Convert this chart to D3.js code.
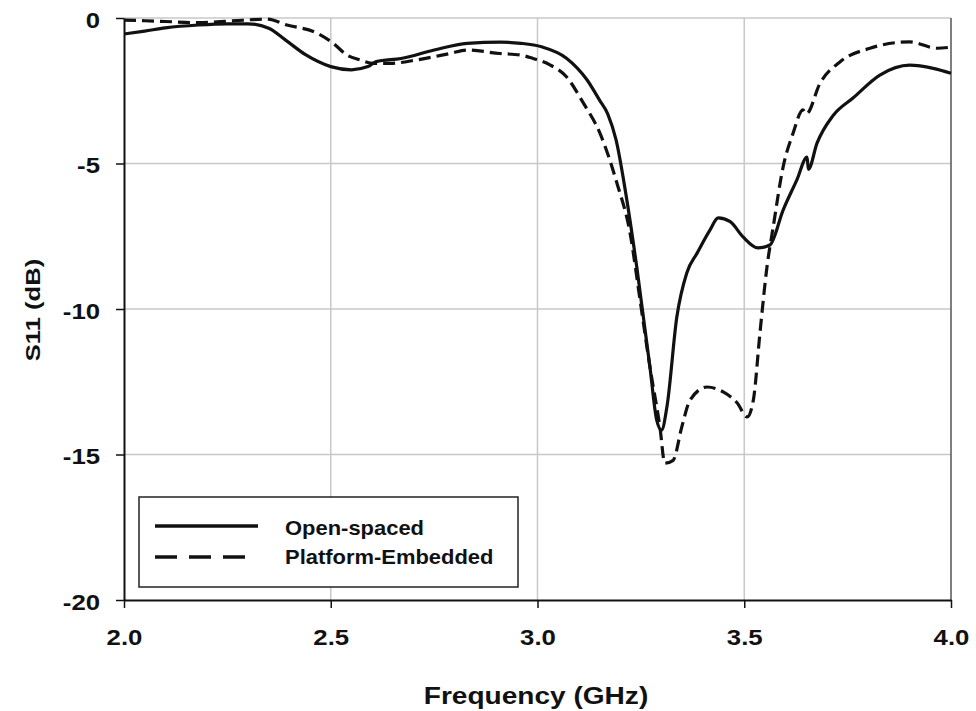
<!DOCTYPE html>
<html><head><meta charset="utf-8">
<script src="https://cdn.jsdelivr.net/npm/d3@7/dist/d3.min.js"></script>
<style>
html,body{margin:0;padding:0;background:#fff;}
text{font-family:"Liberation Sans",Arial,sans-serif;font-weight:bold;fill:#111;}
</style></head>
<body>
<svg id="chart" width="976" height="711"></svg>
<script>
// ---- data ----
const openFreq = [2.00,2.05,2.10,2.18,2.25,2.30,2.35,2.39,2.44,2.50,2.55,2.59,2.61,2.67,2.75,2.83,2.91,2.96,3.01,3.07,3.12,3.15,3.17,3.19,3.216,3.24,3.272,3.288,3.30,3.313,3.337,3.361,3.386,3.417,3.437,3.466,3.497,3.533,3.562,3.594,3.627,3.652,3.655,3.676,3.715,3.763,3.828,3.90,3.957,4.00];
const openS11  = [-0.55,-0.45,-0.34,-0.24,-0.20,-0.20,-0.35,-0.75,-1.27,-1.67,-1.78,-1.67,-1.50,-1.39,-1.10,-0.87,-0.83,-0.87,-0.99,-1.38,-2.13,-2.82,-3.30,-4.19,-6.25,-8.55,-12.0,-13.8,-14.16,-13.36,-10.27,-8.76,-8.08,-7.29,-6.87,-7.00,-7.52,-7.90,-7.80,-6.60,-5.57,-4.78,-5.20,-4.30,-3.35,-2.75,-1.96,-1.62,-1.73,-1.90];
const embFreq  = [2.00,2.10,2.18,2.26,2.346,2.394,2.467,2.506,2.539,2.571,2.603,2.643,2.708,2.788,2.83,2.909,2.958,2.989,3.03,3.07,3.11,3.151,3.192,3.224,3.248,3.272,3.296,3.308,3.328,3.349,3.369,3.41,3.449,3.483,3.507,3.522,3.538,3.555,3.57,3.594,3.618,3.642,3.65,3.683,3.732,3.804,3.90,3.966,4.00];
const embS11   = [-0.07,-0.12,-0.16,-0.10,-0.04,-0.24,-0.52,-0.87,-1.27,-1.44,-1.56,-1.56,-1.44,-1.22,-1.10,-1.22,-1.27,-1.39,-1.61,-2.02,-2.90,-3.96,-5.67,-7.40,-9.69,-12.0,-14.05,-15.3,-15.2,-14.05,-13.13,-12.68,-12.85,-13.23,-13.71,-13.13,-10.82,-8.55,-7.18,-5.12,-3.96,-3.16,-3.30,-2.25,-1.50,-1.04,-0.82,-1.04,-1.00];
const xTicks = [2.0,2.5,3.0,3.5,4.0];
const yTicks = [0,-5,-10,-15,-20];
const seriesNames = ["Open-spaced","Platform-Embedded"];

// ---- layout ----
const svg = d3.select("#chart");
const L = 124, R = 951, T = 18, B = 600;
const x = d3.scaleLinear().domain([2,4]).range([L,R]);
const y = d3.scaleLinear().domain([0,-20]).range([T,B]);

// grid
const grid = svg.append("g");
grid.selectAll("line.v").data(xTicks.slice(1,-1)).join("line")
  .attr("x1",d=>x(d)).attr("x2",d=>x(d)).attr("y1",T).attr("y2",B)
  .attr("stroke","#c8c8c8").attr("stroke-width",1.5);
grid.selectAll("line.h").data(yTicks.slice(0,-1)).join("line")
  .attr("x1",L).attr("x2",R).attr("y1",d=>y(d)).attr("y2",d=>y(d))
  .attr("stroke","#c8c8c8").attr("stroke-width",1.5);
svg.append("line").attr("x1",R).attr("x2",R).attr("y1",T).attr("y2",B)
  .attr("stroke","#555").attr("stroke-width",1.5);

// axes
const xAxis = d3.axisBottom(x).tickValues(xTicks).tickFormat(d3.format(".1f")).tickSizeInner(8).tickSizeOuter(0).tickPadding(0);
const yAxis = d3.axisLeft(y).tickValues(yTicks).tickFormat(d=>d===0?"0":String(d)).tickSizeInner(8).tickSizeOuter(0).tickPadding(16);
const gx = svg.append("g").attr("transform",`translate(0,${B})`).call(xAxis);
const gy = svg.append("g").attr("transform",`translate(${L},0)`).call(yAxis);
[gx,gy].forEach(g=>{
  g.select(".domain").attr("stroke","#111").attr("stroke-width",2);
  g.selectAll(".tick line").attr("stroke","#111").attr("stroke-width",1.5);
  g.selectAll(".tick text").style("font-family","'Liberation Sans',Arial,sans-serif").style("font-weight","bold").style("font-size","22px").attr("fill","#111").attr("data-s","1.17");
});
gx.selectAll(".tick text").attr("y",45).attr("dy",null);
gy.selectAll(".tick text").attr("dy","0.42em");

// clip
svg.append("clipPath").attr("id","clip").append("rect").attr("x",L).attr("y",T-4).attr("width",R-L+1).attr("height",B-T+4);

const line = d3.line().x(d=>x(d[0])).y(d=>y(d[1])).curve(d3.curveMonotoneX);
const openData = openFreq.map((f,i)=>[f,openS11[i]]);
const embData = embFreq.map((f,i)=>[f,embS11[i]]);
const plot = svg.append("g").attr("clip-path","url(#clip)");
plot.append("path").datum(embData).attr("d",line).attr("fill","none")
  .attr("stroke","#111").attr("stroke-width",3.2).attr("stroke-dasharray","12,6");
plot.append("path").datum(openData).attr("d",line).attr("fill","none")
  .attr("stroke","#111").attr("stroke-width",3.2);

// legend
const lg = svg.append("g");
lg.append("rect").attr("x",139).attr("y",497).attr("width",379).attr("height",90)
  .attr("fill","#fff").attr("stroke","#222").attr("stroke-width",1.5);
lg.append("line").attr("x1",155).attr("x2",258).attr("y1",526).attr("y2",526).attr("stroke","#111").attr("stroke-width",3.5);
lg.append("line").attr("x1",155).attr("x2",247).attr("y1",557).attr("y2",557).attr("stroke","#111").attr("stroke-width",3.5).attr("stroke-dasharray","22,12");
lg.selectAll("text").data(seriesNames).join("text")
  .attr("x",285).attr("y",(d,i)=>535+i*29).style("font-size","20.5px").attr("data-s","1.07").text(d=>d);

// axis titles
svg.append("text").attr("x",536).attr("y",704).attr("text-anchor","middle").style("font-size","23px").attr("data-s","1.22").text("Frequency (GHz)");
svg.append("text").attr("transform","translate(33,310) rotate(-90)").attr("text-anchor","middle").attr("dy","0.35em").style("font-size","21px").attr("data-s","1.22").text("S11 (dB)");

// horizontal stretch to match the reference's wide lettering
svg.selectAll("text[data-s]").each(function(){
  const s = +this.getAttribute("data-s");
  const len = this.getComputedTextLength();
  this.setAttribute("textLength", (len*s).toFixed(1));
  this.setAttribute("lengthAdjust","spacingAndGlyphs");
});
</script>
</body></html>
